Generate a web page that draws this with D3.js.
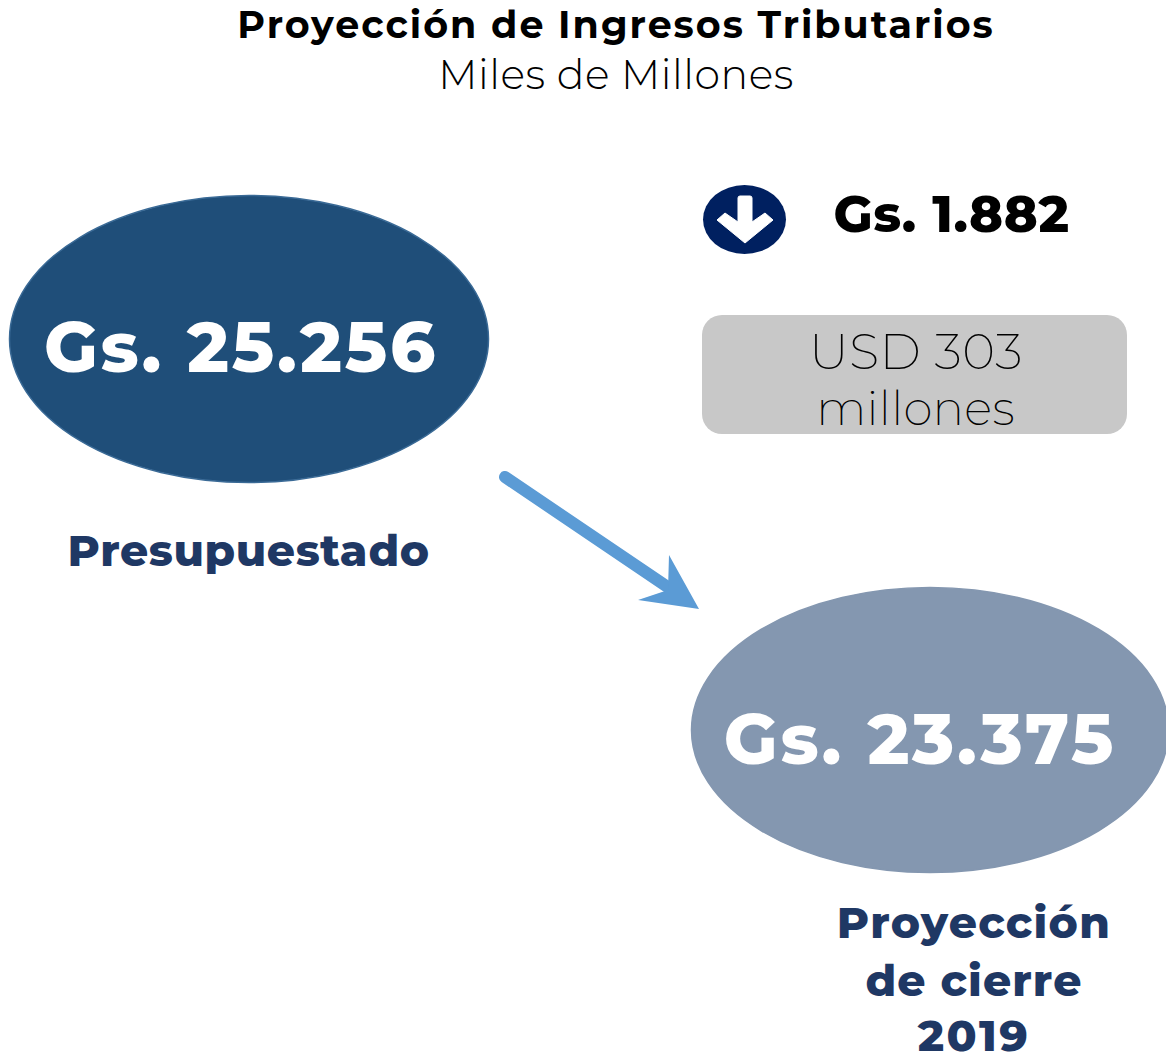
<!DOCTYPE html>
<html><head><meta charset="utf-8"><style>html,body{margin:0;padding:0;background:#fff}svg{display:block}</style>
<script src="https://cdnjs.cloudflare.com/ajax/libs/d3/7.8.5/d3.min.js"></script></head><body>
<script>
const titleLines = ["Proyección de Ingresos Tributarios"];
const subtitleLines = ["Miles de Millones"];
const categories = ["Presupuestado", "Proyección de cierre 2019"];
const values = [25256, 23375];
const diffValue = 1882;
const usdLines = ["USD 303", "millones"];
const fmt = v => "Gs. " + d3.format(",")(v).replace(/,/g, ".");
const F = "Montserrat, Inter, 'Open Sans', sans-serif";
const svg = d3.select("body").append("svg").attr("width",1166).attr("height",1062);
const T=(s,x,y,size,weight,fill,ls)=>svg.append("text").text(s).attr("x",x).attr("y",y).attr("text-anchor","middle")
  .attr("font-family",F).attr("font-size",size).attr("font-weight",weight).attr("fill",fill).attr("letter-spacing",ls||0);
T(titleLines[0],616,38,38,700,"#000",2);
T(subtitleLines[0],616,89,41,300,"#000",0.55);
const ells=[{cx:249,cy:339,rx:239.5,ry:143.5,fill:"#1f4e79",st:"#3a6a96"},{cx:930,cy:730,rx:238.5,ry:142.5,fill:"#8497b0",st:"#8497b0"}];
svg.selectAll("ellipse.b").data(ells).join("ellipse").attr("cx",d=>d.cx).attr("cy",d=>d.cy).attr("rx",d=>d.rx).attr("ry",d=>d.ry).attr("fill",d=>d.fill).attr("stroke",d=>d.st).attr("stroke-width",1.5);
T(fmt(values[0]),241,372,70,800,"#fff",2.7);
T(fmt(values[1]),920,764,70,800,"#fff",2.8);
T(categories[0],248.5,566,44,800,"#1f3864",0.6);
T("Proyección",974,938,44,800,"#1f3864",1.3);
T("de cierre",974,996,44,800,"#1f3864",1.1);
T("2019",974,1051,44,800,"#1f3864",2.5);
svg.append("ellipse").attr("cx",744.5).attr("cy",219.5).attr("rx",41.5).attr("ry",34.5).attr("fill","#002060");
svg.append("path").attr("d","M738 198Q738 196 740 196H750Q752 196 752 198V222L765 213L773 220L745 243L717 220L725 213L738 222Z").attr("fill","#fff").attr("stroke","#fff").attr("stroke-width",1).attr("stroke-linejoin","round");
T(fmt(diffValue),951.5,232,51,800,"#000",0.6);
svg.append("rect").attr("x",702).attr("y",315).attr("width",425).attr("height",119).attr("rx",20).attr("fill","#c8c8c8");
T(usdLines[0],916,369,50,200,"#000",0.4);
T(usdLines[1],915.5,425,47,200,"#000",0.3);
svg.append("path").attr("d","M505 477L675 592").attr("stroke","#5b9bd5").attr("stroke-width",12).attr("stroke-linecap","round");
svg.append("path").attr("d","M699 609L638 600L668 590L669 555Z").attr("fill","#5b9bd5");
</script></body></html>
